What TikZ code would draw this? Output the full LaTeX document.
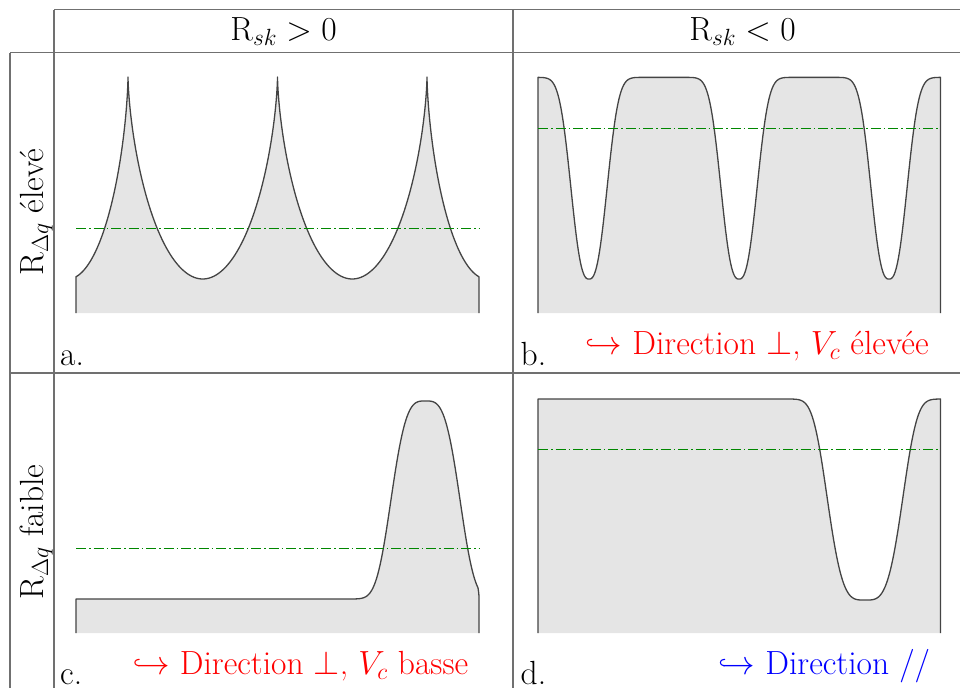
\documentclass[tikz,border=0pt]{standalone}
\usepackage{fix-cm}
\definecolor{tablecol}{RGB}{112,112,112}
\definecolor{curvecol}{RGB}{68,68,68}
\definecolor{fillcol}{RGB}{229,229,229}
\definecolor{greencol}{RGB}{0,135,0}
\newcommand\lblfont{\fontsize{33.5}{40}\selectfont}
\newcommand\dipB[1]{exp(-min(pow((abs(\x-#1)+0.01)/22,2.6),9))}
\newcommand\pathA{(76,313) -- (76,276.8)
  -- plot[domain=2.93:0,samples=60] ({128-60*(\x-sin(\x r))/pi},{77+101*(1-cos(\x r))})
  -- plot[domain=0:6.28319,samples=120] ({128+149.5*(\x-sin(\x r))/(2*pi)},{77+101*(1-cos(\x r))})
  -- plot[domain=0:6.28319,samples=120] ({277.5+149.5*(\x-sin(\x r))/(2*pi)},{77+101*(1-cos(\x r))})
  -- plot[domain=0:2.93,samples=60] ({427+60*(\x-sin(\x r))/pi},{77+101*(1-cos(\x r))})
  -- (479,313)}
\newcommand\pathB{(538,313)
  -- plot[domain=538:940.5,samples=400] ({\x},{77.3+201.7*(\dipB{589}+\dipB{739}+\dipB{889})})
  -- (940.5,313)}
\newcommand\pathC{(76,633) -- (76,599) -- (350,599)
  -- plot[domain=350:478,samples=130] ({\x},{599-198*exp(-min(pow((abs(\x-425.5)+0.01)/38.5,3.4),9))})
  .. controls (479,594) and (479,596) .. (479,599) -- (479,633)}
\newcommand\pathD{(538,633) -- (538,399) -- (780,399)
  -- plot[domain=780:940.5,samples=160] ({\x},{399+201*exp(-min(pow((abs(\x-865)+0.01)/41.5,3.7),9))})
  -- (940.5,633)}
\begin{document}
\begin{tikzpicture}[x=1pt,y=-1pt,
  tablerule/.style={draw=tablecol,line width=1.2pt},
  profile/.style={draw=curvecol,line width=1.3pt,line join=round},
  meanline/.style={draw=greencol,line width=1.1pt,dash pattern=on 10pt off 3pt on 1.5pt off 3pt},
  lbl/.style={font=\lblfont,inner sep=0pt},
  redlbl/.style={lbl,text=red},
  bluelbl/.style={lbl,text=blue}]
\useasboundingbox (0,0) rectangle (960,688);
% table
\coordinate (t1) at (54,9.5);   \coordinate (t2) at (960,9.5);
\coordinate (h1) at (10,52.5);  \coordinate (h2) at (960,52.5);
\coordinate (s1) at (10,373);   \coordinate (s2) at (960,373);
\coordinate (va) at (10,52.5);  \coordinate (vab) at (10,688);
\coordinate (vb) at (54,9.5);   \coordinate (vbb) at (54,688);
\coordinate (vc) at (513,9.5);  \coordinate (vcb) at (513,688);
\draw[tablerule] (t1) -- (t2);
\draw[tablerule] (h1) -- (h2);
\draw[tablerule] (s1) -- (s2);
\draw[tablerule] (va) -- (vab);
\draw[tablerule] (vb) -- (vbb);
\draw[tablerule] (vc) -- (vcb);
% panels
\fill[fillcol] \pathA -- cycle;
\draw[profile] \pathA;
\fill[fillcol] \pathB -- cycle;
\draw[profile] \pathB;
\fill[fillcol] \pathC -- cycle;
\draw[profile] \pathC;
\fill[fillcol] \pathD -- cycle;
\draw[profile] \pathD;
% mean lines
\coordinate (ga1) at (76,228.3);  \coordinate (ga2) at (479,228.3);
\coordinate (gb1) at (538,128.3); \coordinate (gb2) at (940.5,128.3);
\coordinate (gc1) at (76,548.7);  \coordinate (gc2) at (479,548.7);
\coordinate (gd1) at (538,449.7); \coordinate (gd2) at (940.5,449.7);
\draw[meanline] (ga1) -- (ga2);
\draw[meanline] (gb1) -- (gb2);
\draw[meanline] (gc1) -- (gc2);
\draw[meanline] (gd1) -- (gd2);
% texts
\node[lbl,anchor=base] (hdrA) at (283.5,40.5) {$\mathrm{R}_{sk} > 0$};
\node[lbl,anchor=base] (hdrB) at (742.5,40.5) {$\mathrm{R}_{sk} < 0$};
\node[lbl,rotate=90,anchor=base] (rowA) at (43,212) {$\mathrm{R}_{\Delta q}$ élevé};
\node[lbl,rotate=90,anchor=base] (rowB) at (43,532) {$\mathrm{R}_{\Delta q}$ faible};
\node[lbl,anchor=base west] (la) at (60,365) {a.};
\node[lbl,anchor=base west] (lb) at (520.5,365) {b.};
\node[lbl,anchor=base west] (lc) at (60,684) {c.};
\node[lbl,anchor=base west] (ld) at (520.5,684) {d.};
\node[redlbl,anchor=base west] (tb) at (585,354) {$\hookrightarrow$ Direction $\perp$, $V_c$ élevée};
\node[redlbl,anchor=base west] (tc) at (132.5,674) {$\hookrightarrow$ Direction $\perp$, $V_c$ basse};
\node[bluelbl,anchor=base west] (td) at (718,674) {$\hookrightarrow$ Direction //};
\end{tikzpicture}
\end{document}
